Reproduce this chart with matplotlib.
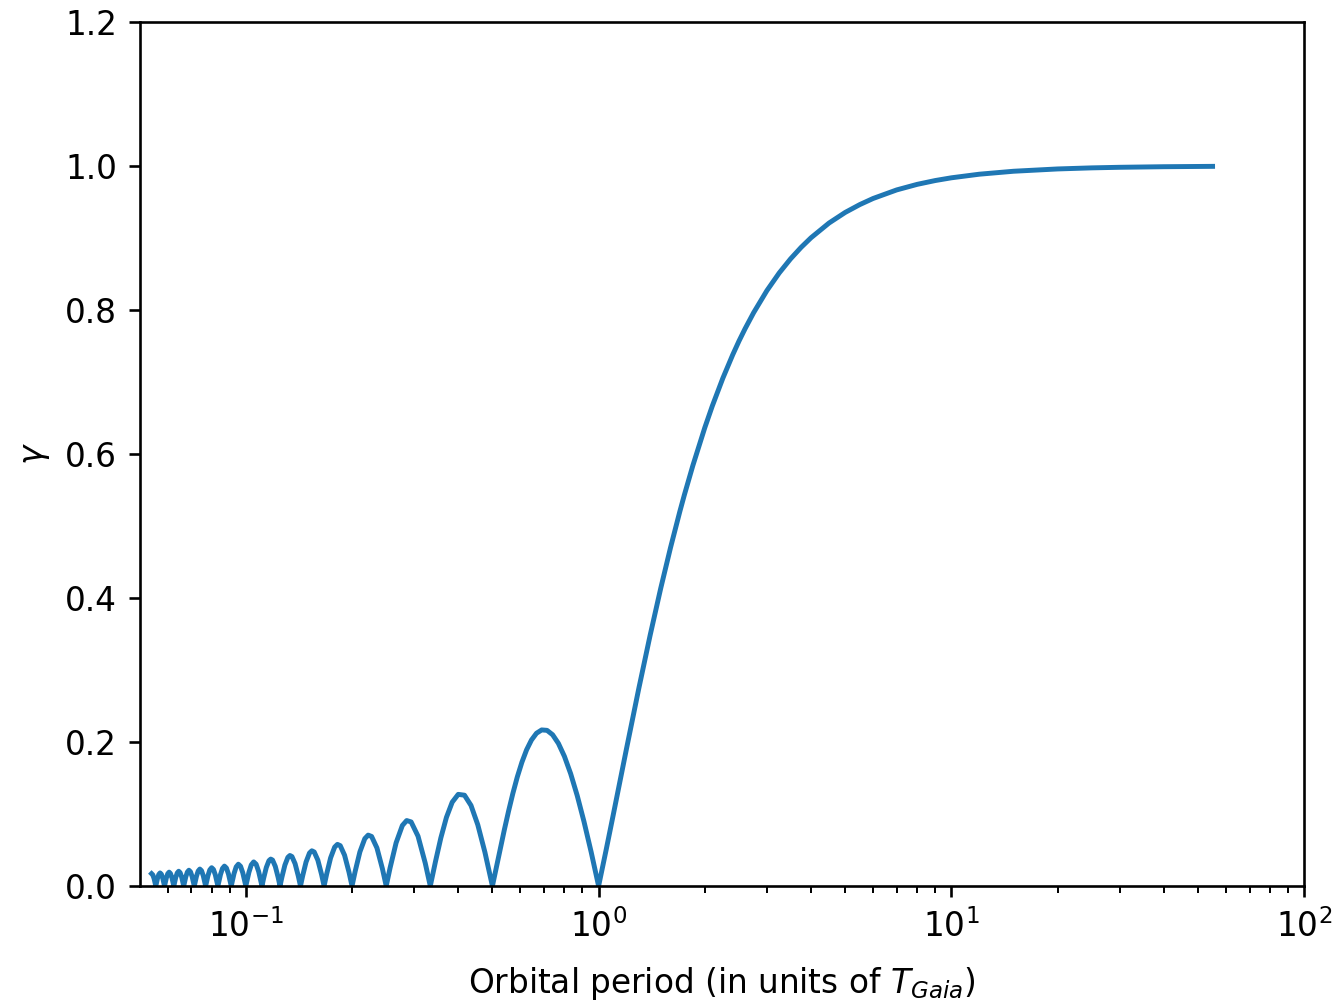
import matplotlib
matplotlib.use("Agg")
import matplotlib.pyplot as plt

# Oscillating part (P < 1): orbital period and gamma
period_osc = [
    0.05405, 0.05450, 0.05495, 0.05556,
    0.05618, 0.05666, 0.05714, 0.05764, 0.05814, 0.05882,
    0.05952, 0.06006, 0.06061, 0.06116, 0.06173, 0.0625,
    0.06329, 0.06390, 0.06452, 0.06515, 0.06579, 0.06667,
    0.06757, 0.06826, 0.06897, 0.06969, 0.07042, 0.07143,
    0.07246, 0.07326, 0.07407, 0.07491, 0.07576, 0.07692,
    0.07813, 0.07905, 0.08, 0.08097, 0.08197, 0.08333,
    0.08475, 0.08584, 0.08696, 0.08811, 0.08929, 0.09091,
    0.09259, 0.09390, 0.09524, 0.09662, 0.09804, 0.1,
    0.10204, 0.10363, 0.10526, 0.10695, 0.10870, 0.11111,
    0.11236, 0.11429, 0.11628, 0.11765, 0.11905, 0.12121, 0.12346, 0.125,
    0.12658, 0.12903, 0.13158, 0.13333, 0.13514, 0.13793, 0.14085, 0.14286,
    0.14493, 0.14815, 0.15152, 0.15385, 0.15625, 0.16, 0.16393, 0.16667,
    0.16949, 0.17391, 0.17857, 0.18182, 0.18519, 0.19048, 0.19608, 0.2,
    0.20408, 0.21053, 0.21739, 0.22222, 0.22727, 0.23529, 0.24390, 0.25,
    0.25641, 0.26667, 0.27778, 0.28571, 0.29412, 0.30769, 0.32258, 0.33333,
    0.3448, 0.3571, 0.3704, 0.3846, 0.4, 0.4167, 0.4348, 0.4545, 0.4762, 0.5,
    0.5128, 0.5263, 0.5405, 0.5556, 0.5714, 0.5882, 0.6061, 0.625, 0.6452,
    0.6667, 0.6897, 0.7143, 0.7407, 0.7692, 0.8, 0.8333, 0.8696, 0.9091,
    0.9524, 1.0,
]
gamma_osc = [
    0.01721, 0.01546, 0.01028, 0.0,
    0.01051, 0.01607, 0.01819, 0.01635, 0.01088, 0.0,
    0.01114, 0.01703, 0.01929, 0.01735, 0.01155, 0.0,
    0.01184, 0.01812, 0.02054, 0.01848, 0.01231, 0.0,
    0.01264, 0.01936, 0.02195, 0.01976, 0.01318, 0.0,
    0.01356, 0.02078, 0.02358, 0.02124, 0.01417, 0.0,
    0.01462, 0.02242, 0.02546, 0.02296, 0.01534, 0.0,
    0.01586, 0.02434, 0.02768, 0.02499, 0.01671, 0.0,
    0.01732, 0.02663, 0.03032, 0.02740, 0.01834, 0.0,
    0.01909, 0.02939, 0.03351, 0.03033, 0.02034, 0.0,
    0.01105, 0.02572, 0.03520, 0.03745, 0.03604, 0.02728, 0.01214, 0.0,
    0.01245, 0.02904, 0.03983, 0.04244, 0.04091, 0.03104, 0.01385, 0.0,
    0.01425, 0.03334, 0.04587, 0.04897, 0.04730, 0.03601, 0.01612, 0.0,
    0.01667, 0.03914, 0.05406, 0.05787, 0.05606, 0.04287, 0.01929, 0.0,
    0.02007, 0.04738, 0.06582, 0.07074, 0.06881, 0.05296, 0.02399, 0.0,
    0.02522, 0.06002, 0.08409, 0.09095, 0.08905, 0.06926, 0.03173, 0.0,
    0.03392, 0.06683, 0.09538, 0.11644, 0.12732, 0.12614, 0.11196, 0.08504, 0.04684, 0.0,
    0.0255, 0.0518, 0.0781, 0.1040, 0.1286, 0.1515, 0.1719, 0.1892, 0.2028,
    0.2122, 0.2168, 0.2162, 0.2101, 0.1981, 0.1801, 0.1560, 0.1257, 0.0894,
    0.0474, 0.0,
]

# Rising part (P > 1)
period_rise = [1.05, 1.1, 1.2, 1.3, 1.4, 1.5, 1.6, 1.7, 1.75, 1.85, 2, 2.1,
               2.25, 2.4, 2.5, 2.6, 2.75, 3, 3.25, 3.5, 3.75, 4, 4.5, 5, 5.5,
               6, 7, 8, 9, 10, 12, 15, 20, 25, 30, 40, 55]
gamma_rise = [0.0498, 0.0986, 0.1910, 0.2744, 0.3484, 0.4135, 0.4705, 0.5205,
              0.5431, 0.5840, 0.6366, 0.6666, 0.7053, 0.7379, 0.7569, 0.7738,
              0.7962, 0.8270, 0.8514, 0.8710, 0.8870, 0.9003, 0.9208, 0.9355,
              0.9464, 0.9549, 0.9668, 0.9745, 0.9798, 0.9836, 0.9886, 0.9927,
              0.9959, 0.9974, 0.9982, 0.9990, 0.9995]

period = period_osc + period_rise
gamma = gamma_osc + gamma_rise

s = 1.135
plt.rcParams.update({
    "font.size": 10 * s,
    "lines.linewidth": 1.5 * s,
    "axes.linewidth": 0.8 * s,
    "xtick.major.size": 3.5 * s,
    "ytick.major.size": 3.5 * s,
    "xtick.minor.size": 2 * s,
    "xtick.major.width": 0.8 * s,
    "ytick.major.width": 0.8 * s,
    "xtick.minor.width": 0.6 * s,
    "xtick.major.pad": 3.5 * s,
    "ytick.major.pad": 3.5 * s,
    "axes.labelpad": 4 * s,
})

fig = plt.figure(figsize=(1332 / 208, 1004 / 208), dpi=208)
ax = fig.add_axes([0.1051, 0.1175, 0.874, 0.8606])
ax.plot(period, gamma, color="tab:blue")
ax.set_xscale("log")
ax.set_xlim(10 ** -1.3, 100)
ax.set_ylim(0, 1.2)
ax.set_xlabel(r"Orbital period (in units of $T_{Gaia}$)", labelpad=7.5)
ax.set_ylabel(r"$\gamma$")
fig.savefig("out.png", dpi=208)
